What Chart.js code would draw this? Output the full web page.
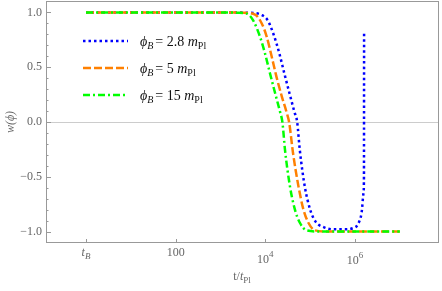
<!DOCTYPE html>
<html>
<head>
<meta charset="utf-8">
<script src="https://cdn.jsdelivr.net/npm/chart.js@4"></script>
<style>
  html, body { margin: 0; padding: 0; background: #fff; }
  #wrap { width: 442px; height: 291px; }
</style>
</head>
<body>
<div id="wrap"><canvas id="wChart" width="442" height="291"></canvas></div>
<script>
// exponents of t/t_Pl (t_B = 1) and w(phi)
const expBlue   = [0, 1, 2, 3, 3.5, 3.75, 3.9, 4.05, 4.2, 4.31, 4.42, 4.54, 4.65, 4.71, 4.77, 4.88, 5.0, 5.12, 5.3, 5.5, 5.75, 5.95, 6.07, 6.15, 6.19, 6.2, 6.203];
const wBlue     = [1, 1, 1, 1, 0.999, 0.995, 0.98, 0.93, 0.78, 0.63, 0.45, 0.26, 0.09, 0, -0.26, -0.59, -0.80, -0.91, -0.96, -0.98, -0.98, -0.97, -0.93, -0.82, -0.65, -0.5, 0.81];
const expOrange = [0, 1, 2, 3, 3.5, 3.77, 3.92, 4.03, 4.14, 4.25, 4.37, 4.48, 4.53, 4.62, 4.74, 4.85, 4.96, 5.11, 5.4, 6, 7];
const wOrange   = [1, 1, 1, 1, 0.998, 0.98, 0.90, 0.78, 0.60, 0.41, 0.23, 0.08, 0, -0.29, -0.59, -0.80, -0.92, -0.99, -1, -1, -1];
const expGreen  = [0, 1, 2, 3, 3.4, 3.585, 3.725, 3.88, 3.99, 4.10, 4.22, 4.33, 4.38, 4.44, 4.55, 4.66, 4.77, 4.92, 5.2, 6, 7];
const wGreen    = [1, 1, 1, 1, 0.998, 0.99, 0.93, 0.78, 0.63, 0.45, 0.26, 0.09, 0, -0.26, -0.59, -0.80, -0.92, -0.99, -1, -1, -1];

const phiValues = ['2.8', '5', '15'];
const yTicks = [-1, -0.5, 0, 0.5, 1];
const xTickValues = [1, 100, 1e4, 1e6];
const xTickLabels = [['t', 'B'], ['100', ''], ['10', '4'], ['10', '6']];

const SERIF = '"Liberation Serif", "DejaVu Serif", serif';
const GRAY = '#666';

function toPoints(exps, ws) {
    return exps.map((e, i) => ({ x: Math.pow(10, e), y: ws[i] }));
}

const lineStyles = [
    { color: '#0000ff', dash: [2.5, 3] },
    { color: '#ff8000', dash: [8, 3] },
    { color: '#00ff00', dash: [7, 3, 2, 3] }
];

const seriesData = [toPoints(expBlue, wBlue), toPoints(expOrange, wOrange), toPoints(expGreen, wGreen)];

// frame, ticks, zero line, labels, legend
const decorPlugin = {
    id: 'decor',
    beforeDatasetsDraw(chart) {
        const { ctx, chartArea: a, scales: { y } } = chart;
        const y0 = Math.round(y.getPixelForValue(0)) + 0.5;
        ctx.save();
        ctx.strokeStyle = '#cccccc';
        ctx.lineWidth = 1;
        ctx.beginPath();
        ctx.moveTo(a.left, y0);
        ctx.lineTo(a.right, y0);
        ctx.stroke();
        ctx.restore();
    },
    afterDatasetsDraw(chart) {
        const { ctx, chartArea: a, scales: { x, y } } = chart;
        ctx.save();
        ctx.strokeStyle = '#999999';
        ctx.lineWidth = 1;
        ctx.strokeRect(Math.round(a.left) + 0.5, Math.round(a.top) + 0.5,
            Math.round(a.right - a.left) - 1, Math.round(a.bottom - a.top) - 1);

        // y ticks (inward)
        ctx.beginPath();
        for (let k = -10; k <= 10; k++) {
            const py = Math.round(y.getPixelForValue(k / 10)) + 0.5;
            const len = (k % 5 === 0) ? 5 : 2.5;
            ctx.moveTo(a.left, py);
            ctx.lineTo(a.left + len, py);
        }
        // x ticks (inward)
        xTickValues.forEach(v => {
            const px = Math.round(x.getPixelForValue(v)) + 0.5;
            ctx.moveTo(px, a.bottom);
            ctx.lineTo(px, a.bottom - 4);
        });
        ctx.stroke();

        // x tick labels
        ctx.fillStyle = GRAY;
        ctx.textBaseline = 'alphabetic';
        xTickValues.forEach((v, i) => {
            const px = x.getPixelForValue(v);
            const [main, extra] = xTickLabels[i];
            if (i === 0) {
                ctx.font = 'italic 12px ' + SERIF;
                const w1 = ctx.measureText(main).width;
                ctx.font = 'italic 9px ' + SERIF;
                const w2 = ctx.measureText(extra).width;
                const x0 = px - (w1 + w2) / 2;
                ctx.font = 'italic 12px ' + SERIF;
                ctx.fillText(main, x0, a.bottom + 13);
                ctx.font = 'italic 9px ' + SERIF;
                ctx.fillText(extra, x0 + w1, a.bottom + 16);
            } else if (extra === '') {
                ctx.font = '12px ' + SERIF;
                ctx.textAlign = 'center';
                ctx.fillText(main, px, a.bottom + 13);
                ctx.textAlign = 'left';
            } else {
                ctx.font = '12px ' + SERIF;
                const w1 = ctx.measureText(main).width;
                ctx.font = '9px ' + SERIF;
                const w2 = ctx.measureText(extra).width;
                const x0 = px - (w1 + w2) / 2;
                const base = a.bottom + 20 + (i === 3 ? 1 : 0);
                ctx.font = '12px ' + SERIF;
                ctx.fillText(main, x0, base);
                ctx.font = '9px ' + SERIF;
                ctx.fillText(extra, x0 + w1, base - 6);
            }
        });

        // x axis title: t/t_Pl
        ctx.font = '12px ' + SERIF;
        const tw1 = ctx.measureText('t/').width;
        ctx.font = 'italic 12px ' + SERIF;
        const tw2 = ctx.measureText('t').width;
        ctx.font = '9px ' + SERIF;
        const tw3 = ctx.measureText('Pl').width;
        let tx = 242 - (tw1 + tw2 + tw3) / 2;
        ctx.font = '12px ' + SERIF;
        ctx.fillText('t/', tx, 280);
        ctx.font = 'italic 12px ' + SERIF;
        ctx.fillText('t', tx + tw1, 280);
        ctx.font = '9px ' + SERIF;
        ctx.fillText('Pl', tx + tw1 + tw2, 283);

        // y axis title: w(phi)
        ctx.save();
        ctx.translate(10, 122);
        ctx.rotate(-Math.PI / 2);
        ctx.font = 'italic 12px ' + SERIF;
        ctx.textAlign = 'center';
        ctx.fillText('w(\u03d5)', 0, 4);
        ctx.restore();

        // legend
        chart.data.datasets.forEach((ds, i) => {
            const ly = 41 + i * 27;
            ctx.save();
            ctx.strokeStyle = ds.borderColor;
            ctx.lineWidth = ds.borderWidth;
            ctx.setLineDash(ds.borderDash);
            ctx.beginPath();
            ctx.moveTo(83, ly);
            ctx.lineTo(128, ly);
            ctx.stroke();
            ctx.restore();

            ctx.fillStyle = '#111';
            let cx = 140;
            const base = ly + 5;
            const put = (txt, font, dy) => {
                ctx.font = font;
                ctx.fillText(txt, cx, base + dy);
                cx += ctx.measureText(txt).width;
            };
            put('\u03d5', 'italic 14px ' + SERIF, 0);
            put('B', 'italic 10px ' + SERIF, 3);
            cx += 2;
            put('=', '14px ' + SERIF, 0);
            cx += 3.5;
            put(phiValues[i], '14px ' + SERIF, 0);
            cx += 3.5;
            put('m', 'italic 14px ' + SERIF, 0);
            put('Pl', '10px ' + SERIF, 3);
        });
        ctx.restore();
    }
};

const ctx = document.getElementById('wChart').getContext('2d');
new Chart(ctx, {
    type: 'line',
    data: {
        datasets: seriesData.map((pts, i) => ({
            label: '\u03d5B = ' + phiValues[i] + ' mPl',
            data: pts,
            borderColor: lineStyles[i].color,
            borderDash: lineStyles[i].dash,
            borderWidth: 2.5,
            borderCapStyle: 'butt',
            fill: false,
            pointRadius: 0,
            cubicInterpolationMode: 'monotone',
            order: 3 - i
        }))
    },
    options: {
        responsive: false,
        animation: false,
        layout: { padding: { left: 0, top: 1, right: 3, bottom: 48 } },
        scales: {
            x: {
                type: 'logarithmic',
                min: 0.128,
                max: 7.48e7,
                display: false
            },
            y: {
                min: -1.105,
                max: 1.105,
                afterBuildTicks: s => { s.ticks = yTicks.map(v => ({ value: v })); },
                afterFit: s => { s.width = 46; s.paddingTop = 0; s.paddingBottom = 0; },
                grid: { display: false, drawTicks: false },
                border: { display: false },
                ticks: {
                    padding: 4,
                    color: GRAY,
                    font: { family: SERIF, size: 12 },
                    callback: v => (v < 0 ? '\u2212' : '') + Math.abs(v).toFixed(1)
                }
            }
        },
        plugins: {
            legend: { display: false },
            tooltip: { enabled: false }
        }
    },
    plugins: [decorPlugin]
});
</script>
</body>
</html>
